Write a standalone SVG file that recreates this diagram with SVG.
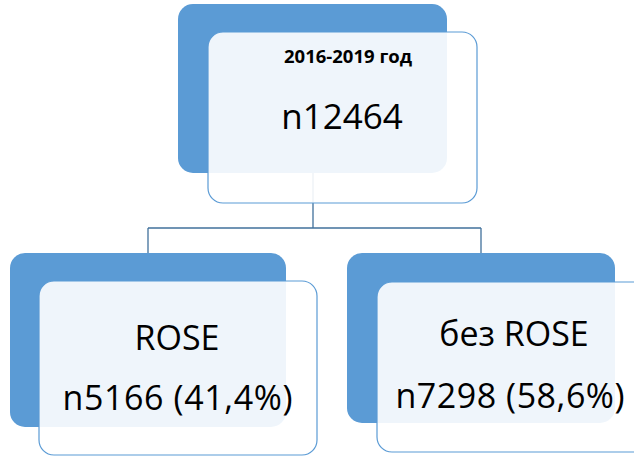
<svg xmlns="http://www.w3.org/2000/svg" width="634" height="456" viewBox="0 0 634 456">
<style>
.back{fill:#5B9BD5;}
.front{fill:#FFFFFF;fill-opacity:0.9;stroke:#5B9BD5;stroke-width:1.2;}
.conn{fill:none;stroke:#41719C;stroke-width:1.3;}
text{font-family:"Open Sans","Noto Sans","Liberation Sans",sans-serif;fill:#000;text-anchor:middle;}
.big{font-size:34px;}
.title{font-size:18.5px;font-weight:bold;}
</style>
<rect width="634" height="456" fill="#FFFFFF"/>
<g id="connectors">
<path class="conn" d="M313 173 V228 M148 228 H481 M148 228 V253 M481 228 V253"/>
</g>
<g id="node-top">
<rect class="back" x="178" y="4" width="269" height="169" rx="15"/>
<rect class="front" x="208" y="32" width="269" height="171" rx="15"/>
<text class="title" x="348" y="63">2016-2019 год</text>
<text class="big" x="342" y="129" style="font-size:35px">n12464</text>
</g>
<g id="node-rose">
<rect class="back" x="10" y="253" width="276" height="174" rx="15"/>
<rect class="front" x="39" y="281" width="278" height="174" rx="15"/>
<text class="big" x="177" y="350">ROSE</text>
<text class="big" x="177.5" y="410" textLength="230" lengthAdjust="spacing">n5166 (41,4%)</text>
</g>
<g id="node-norose">
<rect class="back" x="347" y="253" width="268" height="170" rx="15"/>
<rect class="front" x="377" y="282" width="278" height="170" rx="15"/>
<text class="big" x="514" y="346">без ROSE</text>
<text class="big" x="510" y="408" textLength="229" lengthAdjust="spacing">n7298 (58,6%)</text>
</g>
</svg>
